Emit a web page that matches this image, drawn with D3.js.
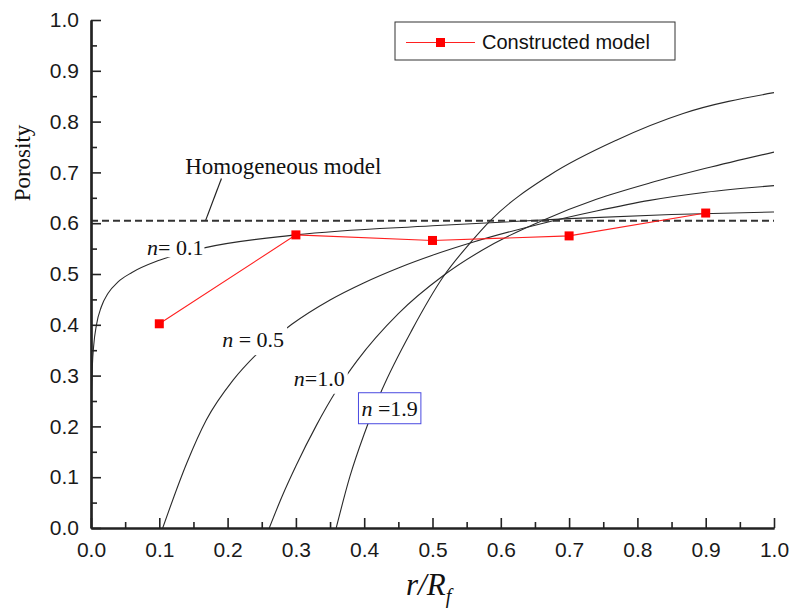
<!DOCTYPE html>
<html>
<head>
<meta charset="utf-8">
<script src="https://cdn.jsdelivr.net/npm/d3@7"></script>
<style>
  body { margin: 0; background: #fff; }
  svg { display: block; }
</style>
</head>
<body>
<svg id="chart" width="789" height="609"></svg>
<script>
// values
var xTicks = [0.0, 0.1, 0.2, 0.3, 0.4, 0.5, 0.6, 0.7, 0.8, 0.9, 1.0];
var yTicks = [0.0, 0.1, 0.2, 0.3, 0.4, 0.5, 0.6, 0.7, 0.8, 0.9, 1.0];

var constructedX = [0.1, 0.3, 0.5, 0.7, 0.9];
var constructedY = [0.402, 0.577, 0.566, 0.575, 0.620];

var homogeneousValue = 0.605;

var curveN01 = [[0.0008, 0.27], [0.002, 0.32], [0.004, 0.36], [0.008, 0.40], [0.015, 0.435],
                [0.025, 0.462], [0.04, 0.485], [0.06, 0.503], [0.1, 0.527], [0.164, 0.551],
                [0.3, 0.577], [0.5, 0.595], [0.7, 0.609], [0.85, 0.617], [1.0, 0.622]];
var curveN05 = [[0.105, 0.0], [0.14, 0.127], [0.169, 0.213], [0.208, 0.291], [0.243, 0.343],
                [0.294, 0.401], [0.35, 0.449], [0.40, 0.483], [0.45, 0.512], [0.5, 0.537],
                [0.56, 0.563], [0.662, 0.600], [0.74, 0.624], [0.818, 0.645], [0.9, 0.661], [1.0, 0.674]];
var curveN10 = [[0.261, 0.0], [0.28, 0.063], [0.30, 0.122], [0.33, 0.202], [0.36, 0.272],
                [0.39, 0.330], [0.45, 0.422], [0.516, 0.497], [0.59, 0.560], [0.662, 0.606],
                [0.74, 0.647], [0.818, 0.679], [0.9, 0.708], [1.0, 0.740]];
var curveN19 = [[0.359, 0.0], [0.379, 0.101], [0.40, 0.185], [0.426, 0.272], [0.47, 0.39],
                [0.516, 0.495], [0.559, 0.567], [0.584, 0.604], [0.672, 0.695], [0.77, 0.764],
                [0.867, 0.816], [1.0, 0.857]];

var margin = {top: 20, right: 15, bottom: 81, left: 91},
    width = 789 - margin.left - margin.right,
    height = 609 - margin.top - margin.bottom;

var svg = d3.select("#chart");
var g = svg.append("g").attr("transform", "translate(" + margin.left + "," + margin.top + ")");

var x = d3.scaleLinear().domain([0, 1]).range([0, width]);
var y = d3.scaleLinear().domain([0, 1]).range([height, 0]);

var serif = "'Liberation Serif', 'Times New Roman', serif";
var sans = "'Liberation Sans', Arial, sans-serif";

g.append("clipPath").attr("id", "plotClip")
  .append("rect").attr("x", 0).attr("y", 0).attr("width", width).attr("height", height);

// model curves
var line = d3.line()
  .x(function(d) { return x(d[0]); })
  .y(function(d) { return y(d[1]); })
  .curve(d3.curveMonotoneX);

var curves = g.append("g").attr("clip-path", "url(#plotClip)");
[curveN01, curveN05, curveN10, curveN19].forEach(function(c) {
  curves.append("path")
    .attr("d", line(c))
    .attr("fill", "none")
    .attr("stroke", "#2a2a2a")
    .attr("stroke-width", 1.1);
});

// homogeneous model
g.append("line")
  .attr("x1", x(0)).attr("x2", x(1))
  .attr("y1", y(homogeneousValue)).attr("y2", y(homogeneousValue))
  .attr("stroke", "#333")
  .attr("stroke-width", 2)
  .attr("stroke-dasharray", "7,4");

// curve labels with white backing so the curves break behind them
function curveLabel(lx, ly, parts, size, tight, boxed) {
  var t = g.append("text")
    .attr("x", x(lx)).attr("y", y(ly))
    .attr("font-family", serif)
    .attr("font-size", size)
    .attr("fill", "#111");
  parts.forEach(function(p) {
    t.append("tspan").attr("font-style", p.italic ? "italic" : "normal").text(p.t);
  });
  var bb = t.node().getBBox();
  var pad = tight ? 1 : 3;
  g.insert("rect", function() { return t.node(); })
    .attr("x", bb.x - pad).attr("y", tight ? bb.y + 3 : bb.y - pad)
    .attr("width", bb.width + pad * 2).attr("height", tight ? bb.height - 6 : bb.height + pad * 2)
    .attr("fill", "#fff")
    .attr("stroke", boxed ? "#4a4ae0" : "none")
    .attr("stroke-width", 1);
}
curveLabel(0.082, 0.537, [{t: "n", italic: true}, {t: "= 0.1"}], 22, true, false);
curveLabel(0.192, 0.356, [{t: "n", italic: true}, {t: " = 0.5"}], 22, false, false);
curveLabel(0.297, 0.280, [{t: "n", italic: true}, {t: "=1.0"}], 22, false, false);
curveLabel(0.396, 0.221, [{t: "n", italic: true}, {t: " =1.9"}], 22, false, true);

// homogeneous label and leader
g.append("text")
  .attr("x", x(0.138)).attr("y", y(0.697))
  .attr("font-family", serif).attr("font-size", 23).attr("fill", "#111")
  .text("Homogeneous model");
g.append("line")
  .attr("x1", x(0.191)).attr("y1", y(0.688))
  .attr("x2", x(0.168)).attr("y2", y(0.606))
  .attr("stroke", "#222").attr("stroke-width", 1.2);

// constructed model
var pts = constructedX.map(function(d, i) { return [d, constructedY[i]]; });
g.append("path")
  .attr("d", d3.line().x(function(d) { return x(d[0]); }).y(function(d) { return y(d[1]); })(pts))
  .attr("fill", "none")
  .attr("stroke", "#ff2020")
  .attr("stroke-width", 1.1);
g.selectAll("rect.marker")
  .data(pts)
  .enter().append("rect")
  .attr("class", "marker")
  .attr("x", function(d) { return x(d[0]) - 4.5; })
  .attr("y", function(d) { return y(d[1]) - 4.5; })
  .attr("width", 9).attr("height", 9)
  .attr("fill", "#ff0000");

// axes
var minorTicks = d3.range(0.05, 1, 0.1);

var yAxis = d3.axisLeft(y).tickValues(yTicks).tickFormat(d3.format(".1f"))
  .tickSize(-10).tickSizeOuter(0).tickPadding(12);
var yMinor = d3.axisLeft(y).tickValues(minorTicks).tickFormat("").tickSize(-6).tickSizeOuter(0);
var xAxis = d3.axisBottom(x).tickValues(xTicks).tickFormat(d3.format(".1f"))
  .tickSize(-10).tickSizeOuter(0).tickPadding(14);
var xMinor = d3.axisBottom(x).tickValues(minorTicks).tickFormat("").tickSize(-6).tickSizeOuter(0);

g.append("g").call(yMinor);
g.append("g").attr("transform", "translate(0," + height + ")").call(xMinor);
g.append("g").call(yAxis);
g.append("g").attr("transform", "translate(0," + height + ")").call(xAxis);

g.selectAll(".domain").attr("stroke", "#222").attr("stroke-width", 2.2);
g.selectAll(".tick line").attr("stroke", "#222").attr("stroke-width", 1.6);
g.selectAll(".tick text").attr("font-family", sans).attr("font-size", 21).attr("fill", "#1a1a1a");

// axis titles
svg.append("text")
  .attr("transform", "translate(30,163) rotate(-90)")
  .attr("text-anchor", "middle")
  .attr("font-family", serif).attr("font-size", 23).attr("fill", "#111")
  .text("Porosity");

var xt = svg.append("text")
  .attr("x", 406).attr("y", 595)
  .attr("font-family", serif).attr("font-size", 31).attr("font-style", "italic").attr("fill", "#111");
xt.append("tspan").text("r/R");
xt.append("tspan").attr("font-size", 20).attr("dy", 8).text("f");

// legend
var lg = svg.append("g").attr("transform", "translate(395,22)");
lg.append("rect").attr("width", 280).attr("height", 38)
  .attr("fill", "#fff").attr("stroke", "#333").attr("stroke-width", 1);
lg.append("line").attr("x1", 11).attr("x2", 80).attr("y1", 20.5).attr("y2", 20.5)
  .attr("stroke", "#ff2020").attr("stroke-width", 1.1);
lg.append("rect").attr("x", 41).attr("y", 16).attr("width", 9).attr("height", 9).attr("fill", "#ff0000");
lg.append("text").attr("x", 87).attr("y", 27)
  .attr("font-family", sans).attr("font-size", 20).attr("fill", "#111")
  .text("Constructed model");
</script>
</body>
</html>
